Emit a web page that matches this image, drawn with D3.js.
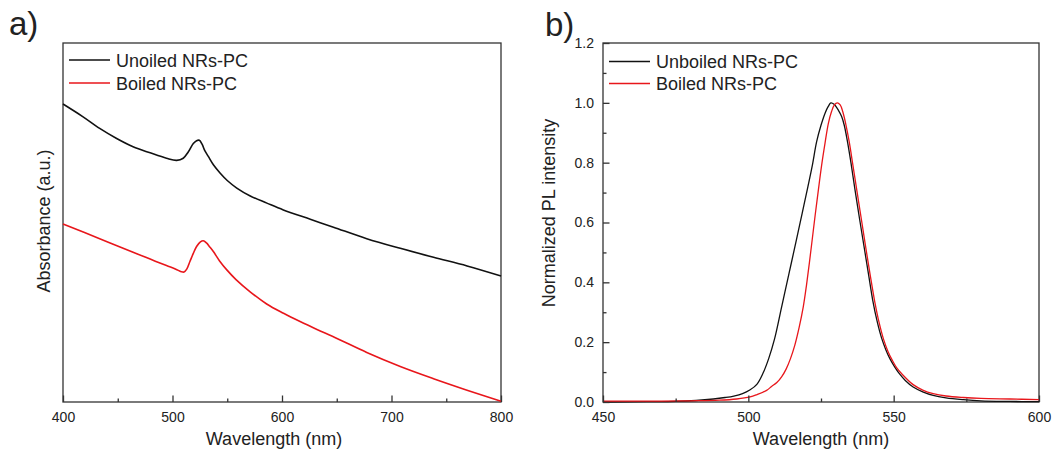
<!DOCTYPE html>
<html>
<head>
<meta charset="utf-8">
<script src="https://cdn.jsdelivr.net/npm/d3@7"></script>
<style>
  body { margin: 0; background: #fff; }
  svg text { font-family: "Liberation Sans", Arial, sans-serif; fill: #222; }
  .axis path, .axis line { stroke: #333; stroke-width: 1.3; }
  .axis text { font-size: 14px; }
</style>
</head>
<body>
<svg id="chart" width="1061" height="454"></svg>
<script>
// panel a: absorbance (arbitrary units, 0 = bottom of frame, 1 = top)
const absUnboiledWl = [400, 418, 433.5, 449, 464, 479.6, 494.5, 503.8, 509.8, 514.5, 519, 522, 524.5, 527, 529.5, 532.7, 537.5, 543.4, 550, 558.7, 571, 586.2, 601.2, 625.8, 647, 677.4, 708, 738.4, 769, 800];
const absUnboiled = [0.830, 0.795, 0.762, 0.734, 0.711, 0.694, 0.679, 0.673, 0.679, 0.697, 0.720, 0.728, 0.729, 0.718, 0.700, 0.684, 0.660, 0.638, 0.617, 0.596, 0.574, 0.554, 0.535, 0.509, 0.487, 0.455, 0.428, 0.403, 0.379, 0.351];
const absBoiledWl = [400, 433.5, 464, 479.6, 494.5, 503, 508, 510.5, 513, 516, 519, 522, 525.5, 528.1, 531, 534, 537.3, 543, 549.6, 558, 570.9, 586, 601.4, 616.5, 631.9, 650.2, 677.4, 708, 738.4, 769, 800];
const absBoiled = [0.496, 0.455, 0.417, 0.398, 0.380, 0.370, 0.363, 0.362, 0.370, 0.392, 0.414, 0.433, 0.446, 0.449, 0.443, 0.432, 0.419, 0.393, 0.368, 0.341, 0.307, 0.273, 0.247, 0.224, 0.202, 0.177, 0.138, 0.099, 0.065, 0.033, 0.002];

// panel b: normalized PL
const plUnboiledWl = [450, 465, 475, 482, 488, 492, 495, 498, 500.5, 503, 505, 507, 509, 511.5, 514, 516.5, 518.5, 520.5, 522, 523.5, 525, 526.5, 527.5, 528.4, 529.5, 531, 532.1, 533, 534, 535.3, 536.7, 538.3, 539.8, 541.3, 542.8, 544.3, 545.8, 547.3, 548.7, 550.5, 552.1, 554, 556.7, 560, 563.6, 568, 574, 580, 590, 600];
const plUnboiled = [0.000, 0.001, 0.002, 0.005, 0.010, 0.015, 0.020, 0.028, 0.040, 0.060, 0.095, 0.145, 0.210, 0.320, 0.430, 0.540, 0.630, 0.720, 0.790, 0.870, 0.925, 0.968, 0.988, 1.000, 0.995, 0.975, 0.954, 0.925, 0.876, 0.800, 0.709, 0.610, 0.520, 0.430, 0.340, 0.270, 0.215, 0.175, 0.145, 0.115, 0.093, 0.072, 0.050, 0.034, 0.022, 0.014, 0.008, 0.004, 0.002, 0.001];
const plBoiledWl = [450, 470, 480, 490, 496, 500.6, 503, 506.3, 508, 509.8, 511.5, 513, 514.5, 516, 517.5, 518.9, 520, 521, 522, 523, 524.1, 525.2, 526.4, 527.5, 528.6, 529.6, 530.6, 531.6, 532.5, 533.5, 534.7, 536, 537.3, 538.9, 540.5, 542, 543.5, 545, 546.5, 548, 549.5, 551, 553, 556.7, 560, 563.6, 568, 574, 580, 590, 600];
const plBoiled = [0.003, 0.003, 0.004, 0.006, 0.010, 0.017, 0.025, 0.039, 0.052, 0.065, 0.085, 0.110, 0.145, 0.190, 0.250, 0.318, 0.390, 0.465, 0.545, 0.625, 0.709, 0.790, 0.866, 0.930, 0.970, 0.993, 1.000, 0.993, 0.970, 0.930, 0.870, 0.790, 0.709, 0.610, 0.510, 0.420, 0.335, 0.265, 0.210, 0.170, 0.140, 0.115, 0.092, 0.058, 0.040, 0.028, 0.020, 0.015, 0.012, 0.010, 0.008];

const aTicks = [400, 500, 600, 700, 800];
const aMinor = [450, 550, 650, 750];
const bTicks = [450, 500, 550, 600];
const bMinor = [475, 525, 575];
const bYTicks = [0, 0.2, 0.4, 0.6, 0.8, 1.0, 1.2];
const bYMinor = [0.1, 0.3, 0.5, 0.7, 0.9, 1.1];

const BLACK = "#111";
const RED = "#e8161b";

const svg = d3.select("#chart");

function zip(xs, ys) { return xs.map((x, i) => ({ x: x, y: ys[i] })); }

function panel(opts) {
    let x = d3.scaleLinear().domain(opts.xDomain).range([opts.left, opts.right]);
    let y = d3.scaleLinear().domain(opts.yDomain).range([opts.bottom, opts.top]);
    let g = svg.append("g");

    // frame
    g.append("rect")
        .attr("x", opts.left).attr("y", opts.top)
        .attr("width", opts.right - opts.left).attr("height", opts.bottom - opts.top)
        .attr("fill", "none").attr("stroke", "#333").attr("stroke-width", 1.3);

    let line = d3.line().x(d => x(d.x)).y(d => y(d.y)).curve(d3.curveCatmullRom.alpha(0.5));

    opts.series.forEach(s => {
        g.append("path")
            .datum(zip(s.wl, s.val))
            .attr("fill", "none")
            .attr("stroke", s.color)
            .attr("stroke-width", opts.lw)
            .attr("d", line);
    });

    // bottom axis, ticks pointing in
    g.append("g").attr("class", "axis")
        .attr("transform", "translate(0," + opts.bottom + ")")
        .call(d3.axisBottom(x).tickValues(opts.xMinor).tickSize(-3.5).tickFormat(""))
        .select(".domain").remove();
    g.append("g").attr("class", "axis")
        .attr("transform", "translate(0," + opts.bottom + ")")
        .call(d3.axisBottom(x).tickValues(opts.xTicks).tickSizeInner(-6.5).tickSizeOuter(0).tickPadding(10).tickFormat(d3.format("d")))
        .select(".domain").remove();

    if (opts.yTicks) {
        g.append("g").attr("class", "axis")
            .attr("transform", "translate(" + opts.left + ",0)")
            .call(d3.axisLeft(y).tickValues(opts.yMinor).tickSize(-3.5).tickFormat(""))
            .select(".domain").remove();
        g.append("g").attr("class", "axis")
            .attr("transform", "translate(" + opts.left + ",0)")
            .call(d3.axisLeft(y).tickValues(opts.yTicks).tickSizeInner(-6.5).tickSizeOuter(0).tickPadding(9).tickFormat(d3.format(".1f")))
            .select(".domain").remove();
    }

    // legend
    opts.series.forEach((s, i) => {
        let ly = opts.legY + i * opts.legGap;
        g.append("line")
            .attr("x1", opts.legX).attr("x2", opts.legX + 41)
            .attr("y1", ly).attr("y2", ly)
            .attr("stroke", s.color).attr("stroke-width", opts.lw);
        g.append("text")
            .attr("x", opts.legX + 47).attr("y", ly + 6.5)
            .attr("font-size", 18)
            .text(s.name);
    });

    // axis titles
    g.append("text")
        .attr("x", opts.xLabelX).attr("y", 445)
        .attr("text-anchor", "middle").attr("font-size", 18)
        .text("Wavelength (nm)");
    g.append("text")
        .attr("transform", "translate(" + opts.yLabelX + "," + opts.yLabelY + ") rotate(-90)")
        .attr("text-anchor", "middle").attr("font-size", 18)
        .text(opts.yLabel);

    g.append("text")
        .attr("x", opts.tagX).attr("y", opts.tagY)
        .attr("font-size", 33)
        .text(opts.tag);
}

panel({
    left: 63, right: 501, top: 43, bottom: 402,
    xDomain: [400, 800], yDomain: [0, 1],
    xTicks: aTicks, xMinor: aMinor,
    lw: 1.6,
    series: [
        { name: "Unoiled NRs-PC", wl: absUnboiledWl, val: absUnboiled, color: BLACK },
        { name: "Boiled NRs-PC", wl: absBoiledWl, val: absBoiled, color: RED }
    ],
    legX: 69, legY: 60, legGap: 23,
    xLabelX: 274, yLabelX: 50, yLabelY: 221, yLabel: "Absorbance (a.u.)",
    tag: "a)", tagX: 9, tagY: 35
});

panel({
    left: 603, right: 1039, top: 43, bottom: 402,
    xDomain: [450, 600], yDomain: [0, 1.2],
    xTicks: bTicks, xMinor: bMinor,
    yTicks: bYTicks, yMinor: bYMinor,
    lw: 1.3,
    series: [
        { name: "Unboiled NRs-PC", wl: plUnboiledWl, val: plUnboiled, color: BLACK },
        { name: "Boiled NRs-PC", wl: plBoiledWl, val: plBoiled, color: RED }
    ],
    legX: 609, legY: 61.5, legGap: 22,
    xLabelX: 821, yLabelX: 555, yLabelY: 213, yLabel: "Normalized PL intensity",
    tag: "b)", tagX: 545, tagY: 36
});
</script>
</body>
</html>
